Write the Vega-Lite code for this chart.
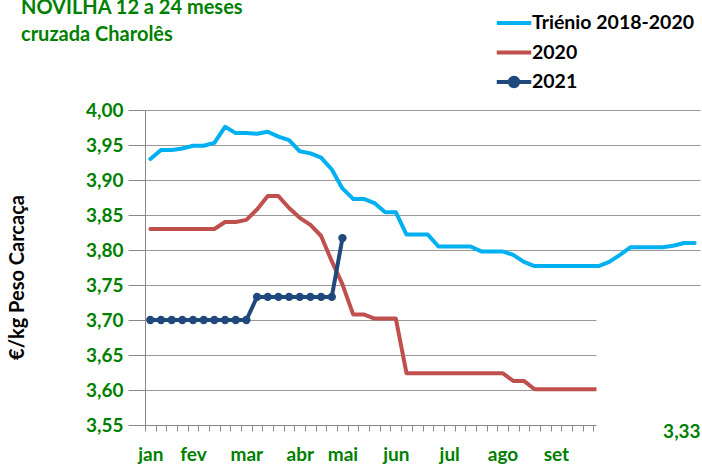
{
  "$schema": "https://vega.github.io/schema/vega-lite/v6.json",
  "autosize": "none",
  "width": 555,
  "height": 315,
  "padding": {"left": 145, "top": 110, "right": 2, "bottom": 41},
  "background": "white",
  "config": {
    "font": "Lato",
    "view": {"stroke": null},
    "axis": {"labelFont": "Lato", "labelFontWeight": "bold", "labelColor": "#008000", "labelFontSize": 19, "domainColor": "#888888", "tickColor": "#888888", "gridColor": "#999999"}
  },
  "title": {
    "text": ["NOVILHA 12 a 24 meses", "cruzada Charolês"],
    "anchor": "start",
    "frame": "group",
    "font": "Lato",
    "fontSize": 20,
    "fontWeight": "bold",
    "color": "#008000",
    "lineHeight": 27,
    "baseline": "top",
    "offset": 0,
    "dx": -124,
    "dy": 39
  },
  "datasets": {
    "series": [
      {"w": 0, "v": 3.930, "s": "Triénio 2018-2020"}, {"w": 1, "v": 3.943, "s": "Triénio 2018-2020"}, {"w": 2, "v": 3.943, "s": "Triénio 2018-2020"}, {"w": 3, "v": 3.945, "s": "Triénio 2018-2020"},
      {"w": 4, "v": 3.949, "s": "Triénio 2018-2020"}, {"w": 5, "v": 3.949, "s": "Triénio 2018-2020"}, {"w": 6, "v": 3.953, "s": "Triénio 2018-2020"}, {"w": 7, "v": 3.976, "s": "Triénio 2018-2020"},
      {"w": 8, "v": 3.967, "s": "Triénio 2018-2020"}, {"w": 9, "v": 3.967, "s": "Triénio 2018-2020"}, {"w": 10, "v": 3.966, "s": "Triénio 2018-2020"}, {"w": 11, "v": 3.969, "s": "Triénio 2018-2020"},
      {"w": 12, "v": 3.962, "s": "Triénio 2018-2020"}, {"w": 13, "v": 3.957, "s": "Triénio 2018-2020"}, {"w": 14, "v": 3.941, "s": "Triénio 2018-2020"}, {"w": 15, "v": 3.938, "s": "Triénio 2018-2020"},
      {"w": 16, "v": 3.932, "s": "Triénio 2018-2020"}, {"w": 17, "v": 3.915, "s": "Triénio 2018-2020"}, {"w": 18, "v": 3.888, "s": "Triénio 2018-2020"}, {"w": 19, "v": 3.873, "s": "Triénio 2018-2020"},
      {"w": 20, "v": 3.873, "s": "Triénio 2018-2020"}, {"w": 21, "v": 3.867, "s": "Triénio 2018-2020"}, {"w": 22, "v": 3.854, "s": "Triénio 2018-2020"}, {"w": 23, "v": 3.854, "s": "Triénio 2018-2020"},
      {"w": 24, "v": 3.822, "s": "Triénio 2018-2020"}, {"w": 25, "v": 3.822, "s": "Triénio 2018-2020"}, {"w": 26, "v": 3.822, "s": "Triénio 2018-2020"}, {"w": 27, "v": 3.805, "s": "Triénio 2018-2020"},
      {"w": 28, "v": 3.805, "s": "Triénio 2018-2020"}, {"w": 29, "v": 3.805, "s": "Triénio 2018-2020"}, {"w": 30, "v": 3.805, "s": "Triénio 2018-2020"}, {"w": 31, "v": 3.798, "s": "Triénio 2018-2020"},
      {"w": 32, "v": 3.798, "s": "Triénio 2018-2020"}, {"w": 33, "v": 3.798, "s": "Triénio 2018-2020"}, {"w": 34, "v": 3.793, "s": "Triénio 2018-2020"}, {"w": 35, "v": 3.783, "s": "Triénio 2018-2020"},
      {"w": 36, "v": 3.777, "s": "Triénio 2018-2020"}, {"w": 37, "v": 3.777, "s": "Triénio 2018-2020"}, {"w": 38, "v": 3.777, "s": "Triénio 2018-2020"}, {"w": 39, "v": 3.777, "s": "Triénio 2018-2020"},
      {"w": 40, "v": 3.777, "s": "Triénio 2018-2020"}, {"w": 41, "v": 3.777, "s": "Triénio 2018-2020"}, {"w": 42, "v": 3.777, "s": "Triénio 2018-2020"}, {"w": 43, "v": 3.783, "s": "Triénio 2018-2020"},
      {"w": 44, "v": 3.793, "s": "Triénio 2018-2020"}, {"w": 45, "v": 3.804, "s": "Triénio 2018-2020"}, {"w": 46, "v": 3.804, "s": "Triénio 2018-2020"}, {"w": 47, "v": 3.804, "s": "Triénio 2018-2020"},
      {"w": 48, "v": 3.804, "s": "Triénio 2018-2020"}, {"w": 49, "v": 3.806, "s": "Triénio 2018-2020"}, {"w": 50, "v": 3.810, "s": "Triénio 2018-2020"}, {"w": 51, "v": 3.810, "s": "Triénio 2018-2020"},
      {"w": 0, "v": 3.830, "s": "2020"}, {"w": 1, "v": 3.830, "s": "2020"}, {"w": 2, "v": 3.830, "s": "2020"}, {"w": 3, "v": 3.830, "s": "2020"},
      {"w": 4, "v": 3.830, "s": "2020"}, {"w": 5, "v": 3.830, "s": "2020"}, {"w": 6, "v": 3.830, "s": "2020"}, {"w": 7, "v": 3.840, "s": "2020"},
      {"w": 8, "v": 3.840, "s": "2020"}, {"w": 9, "v": 3.843, "s": "2020"}, {"w": 10, "v": 3.858, "s": "2020"}, {"w": 11, "v": 3.877, "s": "2020"},
      {"w": 12, "v": 3.877, "s": "2020"}, {"w": 13, "v": 3.860, "s": "2020"}, {"w": 14, "v": 3.846, "s": "2020"}, {"w": 15, "v": 3.836, "s": "2020"},
      {"w": 16, "v": 3.820, "s": "2020"}, {"w": 17, "v": 3.784, "s": "2020"}, {"w": 18, "v": 3.751, "s": "2020"}, {"w": 19, "v": 3.708, "s": "2020"},
      {"w": 20, "v": 3.708, "s": "2020"}, {"w": 21, "v": 3.702, "s": "2020"}, {"w": 22, "v": 3.702, "s": "2020"}, {"w": 23, "v": 3.702, "s": "2020"},
      {"w": 24, "v": 3.624, "s": "2020"}, {"w": 25, "v": 3.624, "s": "2020"}, {"w": 26, "v": 3.624, "s": "2020"}, {"w": 27, "v": 3.624, "s": "2020"},
      {"w": 28, "v": 3.624, "s": "2020"}, {"w": 29, "v": 3.624, "s": "2020"}, {"w": 30, "v": 3.624, "s": "2020"}, {"w": 31, "v": 3.624, "s": "2020"},
      {"w": 32, "v": 3.624, "s": "2020"}, {"w": 33, "v": 3.624, "s": "2020"}, {"w": 34, "v": 3.613, "s": "2020"}, {"w": 35, "v": 3.613, "s": "2020"},
      {"w": 36, "v": 3.601, "s": "2020"}, {"w": 37, "v": 3.601, "s": "2020"}, {"w": 38, "v": 3.601, "s": "2020"}, {"w": 39, "v": 3.601, "s": "2020"},
      {"w": 40, "v": 3.601, "s": "2020"}, {"w": 41, "v": 3.601, "s": "2020"}, {"w": 42, "v": 3.601, "s": "2020"},
      {"w": 0, "v": 3.700, "s": "2021"}, {"w": 1, "v": 3.700, "s": "2021"}, {"w": 2, "v": 3.700, "s": "2021"}, {"w": 3, "v": 3.700, "s": "2021"},
      {"w": 4, "v": 3.700, "s": "2021"}, {"w": 5, "v": 3.700, "s": "2021"}, {"w": 6, "v": 3.700, "s": "2021"}, {"w": 7, "v": 3.700, "s": "2021"},
      {"w": 8, "v": 3.700, "s": "2021"}, {"w": 9, "v": 3.700, "s": "2021"}, {"w": 10, "v": 3.733, "s": "2021"}, {"w": 11, "v": 3.733, "s": "2021"},
      {"w": 12, "v": 3.733, "s": "2021"}, {"w": 13, "v": 3.733, "s": "2021"}, {"w": 14, "v": 3.733, "s": "2021"}, {"w": 15, "v": 3.733, "s": "2021"},
      {"w": 16, "v": 3.733, "s": "2021"}, {"w": 17, "v": 3.733, "s": "2021"}, {"w": 18, "v": 3.817, "s": "2021"}
    ]
  },
  "layer": [
    {
      "data": {"name": "series"},
      "mark": {"type": "line", "strokeWidth": 4, "strokeJoin": "round", "strokeCap": "round"},
      "encoding": {
        "x": {
          "field": "w", "type": "quantitative",
          "scale": {"domain": [-0.5, 51.5], "nice": false, "zero": false},
          "axis": {
            "title": null,
            "tickCount": 200,
            "values": [-0.5,0.5,1.5,2.5,3.5,4.5,5.5,6.5,7.5,8.5,9.5,10.5,11.5,12.5,13.5,14.5,15.5,16.5,17.5,18.5,19.5,20.5,21.5,22.5,23.5,24.5,25.5,26.5,27.5,28.5,29.5,30.5,31.5,32.5,33.5,34.5,35.5,36.5,37.5,38.5,39.5,40.5,41.5,42.5,43.5,44.5,45.5,46.5,47.5,48.5,49.5,50.5,51.5],
            "labelExpr": "datum.value == -0.5 ? 'jan' : datum.value == 3.5 ? 'fev' : datum.value == 8.5 ? 'mar' : datum.value == 13.5 ? 'abr' : datum.value == 17.5 ? 'mai' : datum.value == 22.5 ? 'jun' : datum.value == 27.5 ? 'jul' : datum.value == 32.5 ? 'ago' : datum.value == 37.5 ? 'set' : ''",
            "labelOffset": 5.34,
            "labelOverlap": false,
            "labelBound": false,
            "labelFlush": false,
            "labelBaseline": "top",
            "labelPadding": 14,
            "tickSize": 6,
            "grid": false
          }
        },
        "y": {
          "field": "v", "type": "quantitative",
          "scale": {"domain": [3.55, 4.0], "nice": false, "zero": false},
          "axis": {
            "title": "€/kg Peso Carcaça",
            "titleFont": "Lato",
            "titleFontSize": 20,
            "titleFontWeight": "bold",
            "titleColor": "#000000",
            "titleX": -122,
            "titleY": 167,
            "titleAngle": -90,
            "titleAlign": "center",
            "titleBaseline": "alphabetic",
            "tickCount": 100,
            "values": [3.55, 3.6, 3.65, 3.7, 3.75, 3.8, 3.85, 3.9, 3.95, 4.0],
            "labelExpr": "replace(format(datum.value, '.2f'), '.', ',')",
            "labelOverlap": false,
            "labelBound": false,
            "labelFlush": false,
            "tickSize": 17,
            "labelPadding": 5,
            "grid": true,
            "gridWidth": 1
          }
        },
        "color": {
          "field": "s", "type": "nominal",
          "scale": {"domain": ["Triénio 2018-2020", "2020", "2021"], "range": ["#00b0f0", "#c0504d", "#1f497d"]},
          "legend": {
            "title": null,
            "orient": "none",
            "legendX": 352,
            "legendY": -104,
            "padding": 0,
            "symbolSize": 900,
            "symbolStrokeWidth": 4,
            "rowPadding": 2.5,
            "labelOffset": 1,
            "labelFont": "Lato",
            "labelFontSize": 19.5,
            "labelFontWeight": "bold",
            "labelColor": "#000000",
            "labelLimit": 300,
            "encode": {
              "symbols": {
                "update": {
                  "shape": {"signal": "datum.value === '2021' ? 'M-1.15,0L1.15,0M0.28,0A0.28,0.28,0,1,1,-0.28,0A0.28,0.28,0,1,1,0.28,0' : 'M-1.15,0L1.15,0'"},
                  "fill": {"signal": "scale('color', datum.value)"},
                  "stroke": {"signal": "scale('color', datum.value)"},
                  "fillOpacity": {"value": 1}
                }
              }
            }
          }
        },
        "order": {"field": "w", "type": "quantitative"}
      }
    },
    {
      "data": {"name": "series"},
      "transform": [{"filter": "datum.s === '2021'"}],
      "mark": {"type": "point", "filled": true, "size": 70, "opacity": 1},
      "encoding": {
        "x": {"field": "w", "type": "quantitative"},
        "y": {"field": "v", "type": "quantitative"},
        "color": {"field": "s", "type": "nominal"}
      }
    },
    {
      "data": {"values": [{}]},
      "mark": {"type": "rect", "color": "white", "clip": false},
      "encoding": {
        "x": {"datum": 41.8},
        "x2": {"datum": 51.7},
        "y": {"datum": 3.72},
        "y2": {"datum": 3.53}
      }
    },
    {
      "data": {"values": [{"label": "3,33"}]},
      "mark": {"type": "text", "font": "Lato", "fontSize": 19, "fontWeight": "bold", "color": "#008000", "align": "center", "baseline": "middle"},
      "encoding": {
        "x": {"datum": 49.8},
        "y": {"datum": 3.54},
        "text": {"field": "label", "type": "nominal"}
      }
    }
  ]
}
